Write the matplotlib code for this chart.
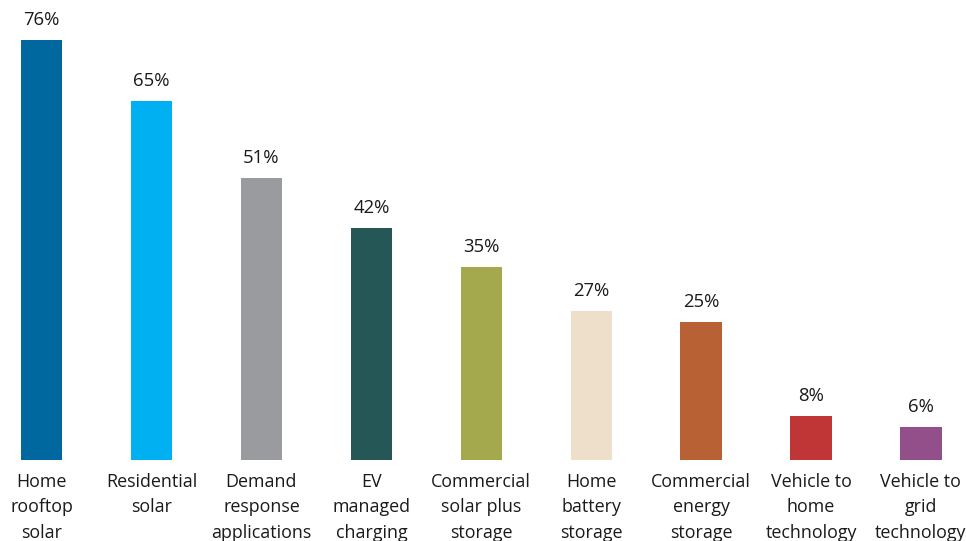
import matplotlib.pyplot as plt

categories = ["Home\nrooftop\nsolar", "Residential\nsolar", "Demand\nresponse\napplications",
              "EV\nmanaged\ncharging", "Commercial\nsolar plus\nstorage", "Home\nbattery\nstorage",
              "Commercial\nenergy\nstorage", "Vehicle to\nhome\ntechnology", "Vehicle to\ngrid\ntechnology"]
values = [76, 65, 51, 42, 35, 27, 25, 8, 6]
colors = ["#00679F", "#00B0F0", "#9A9B9E", "#255757", "#A5A94E", "#EEDFCB",
          "#B86134", "#C03535", "#934F89"]

plt.rcParams['font.family'] = ['Open Sans', 'DejaVu Sans']

fig = plt.figure(figsize=(9.66, 5.41), dpi=100)
ax = fig.add_axes([0, 0.1497, 1, 0.8503])

x = range(len(values))
ax.bar(x, values, width=0.375, color=colors)
for i, v in enumerate(values):
    ax.text(i, v + 2.0, f"{v}%", ha='center', va='bottom', fontsize=13.3, color='#1a1a1a')

ax.set_xticks(list(x))
ax.set_xticklabels(categories, fontsize=12.9, color='#1a1a1a', linespacing=1.55)
ax.tick_params(axis='x', length=0, pad=9)
ax.set_yticks([])
for s in ax.spines.values():
    s.set_visible(False)
ax.set_xlim(-0.378, 8.41)
ax.set_ylim(0, 83.3)

fig.savefig("out.png", dpi=100)
